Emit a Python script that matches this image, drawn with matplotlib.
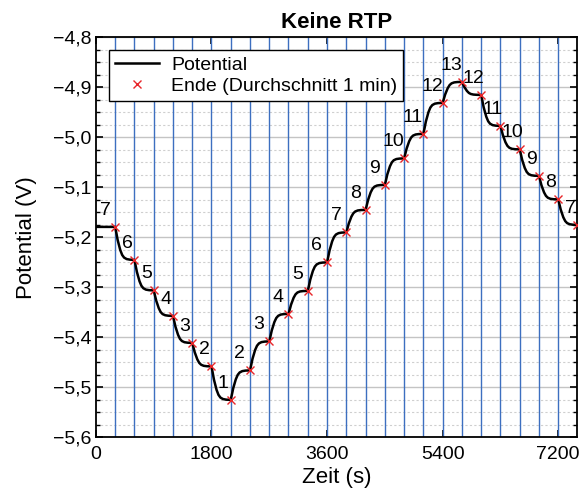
"""
Potentialverlauf ohne RTP: Stufen alle 300 s, Endwerte als Mittel der letzten Minute
"""

import numpy as np
import matplotlib
matplotlib.use('Agg')
import matplotlib.pyplot as plt
from matplotlib.ticker import MultipleLocator, FuncFormatter

# Stufen (Beschriftung) und Endpotential jeder 300-s-Stufe, aus dem Bild gelesen
step_labels = [7, 6, 5, 4, 3, 2, 1, 2, 3, 4, 5, 6, 7,
               8, 9, 10, 11, 12, 13, 12, 11, 10, 9, 8, 7]
step_end_potential = [-5.179, -5.245, -5.306, -5.357, -5.411, -5.458, -5.525,
                      -5.466, -5.408, -5.353, -5.307, -5.250, -5.190,
                      -5.145, -5.095, -5.042, -4.993, -4.931, -4.889,
                      -4.915, -4.977, -5.024, -5.077, -5.124, -5.175]
step_duration = 300  # s

# typischer Einschwingverlauf nach einem Sprung (Anteil des Sprungs ueber Zeit)
profile_t = [0, 15, 40, 80, 110, 140, 180, 230, 300]
profile_frac = [0.0, 0.14, 0.40, 0.70, 0.85, 0.93, 0.975, 0.993, 1.0]

x_ticks = [0, 1800, 3600, 5400, 7200]


def build_curve():
    t_all, v_all = [], []
    prev = step_end_potential[0]
    for k, level in enumerate(step_end_potential):
        t0 = k * step_duration
        for dt, frac in zip(profile_t, profile_frac):
            t_all.append(t0 + dt)
            v_all.append(prev + (level - prev) * frac)
        prev = level
    return np.array(t_all), np.array(v_all)


if __name__ == '__main__':
    plt.rcParams['font.family'] = ['Liberation Sans', 'DejaVu Sans']
    plt.rcParams['axes.unicode_minus'] = True

    fig = plt.figure(figsize=(5.88, 4.92), dpi=100)
    ax = fig.add_axes([0.163, 0.111, 0.819, 0.813])

    t, v = build_curve()
    t_end = np.arange(1, len(step_end_potential) + 1) * step_duration

    # Stufengrenzen
    for x in t_end[:-1]:
        ax.axvline(x, color='#3d6fc0', lw=1.0, zorder=1)

    ax.plot(t, v, color='black', lw=1.8, zorder=3, label='Potential')
    ax.plot(t_end, step_end_potential, 'x', color='#e8262a', ms=6, mew=1.0,
            zorder=4, label='Ende (Durchschnitt 1 min)')

    # Stufennummern
    prev = step_end_potential[0]
    for k, (lab, level) in enumerate(zip(step_labels, step_end_potential)):
        if level > prev:
            dx = 140
        elif level < prev:
            dx = 185
        else:
            dx = 150
        ax.text(k * step_duration + dx, level + 0.033, str(lab),
                fontsize=14, ha='center', va='center', zorder=5)
        prev = level

    ax.set_xlim(0, 7500)
    ax.set_ylim(-5.6, -4.8)
    ax.set_xticks(x_ticks)
    ax.yaxis.set_major_locator(MultipleLocator(0.1))
    ax.yaxis.set_minor_locator(MultipleLocator(0.025))
    ax.yaxis.set_major_formatter(
        FuncFormatter(lambda y, p: ('%.1f' % y).replace('.', ',').replace('-', '\u2212')))

    ax.grid(axis='y', which='major', color='#c4c4c4', lw=1.0, zorder=0)
    ax.grid(axis='y', which='minor', color='#cfcfcf', lw=0.8, ls=(0, (2, 2)), zorder=0)
    ax.set_axisbelow(True)

    ax.tick_params(which='both', direction='in', top=True, right=True,
                   labelsize=14)
    ax.tick_params(axis='x', which='major', length=5, width=1.2, pad=6)
    ax.tick_params(axis='y', which='major', length=5, width=1.2, pad=3)
    ax.tick_params(which='minor', length=3, width=1.0)
    for s in ax.spines.values():
        s.set_linewidth(1.3)

    ax.set_xlabel('Zeit (s)', fontsize=16, labelpad=3)
    ax.set_ylabel('Potential (V)', fontsize=16, labelpad=12)
    ax.set_title('Keine RTP', fontsize=16, fontweight='bold', pad=7)

    leg = ax.legend(loc='upper left', bbox_to_anchor=(0.027, 0.968), fontsize=14,
                    fancybox=False, edgecolor='black', framealpha=1,
                    handlelength=2.3, handletextpad=0.6, borderpad=0.3,
                    labelspacing=0.2, borderaxespad=0)
    leg.get_frame().set_linewidth(1.0)

    fig.savefig('out.png', dpi=100)
